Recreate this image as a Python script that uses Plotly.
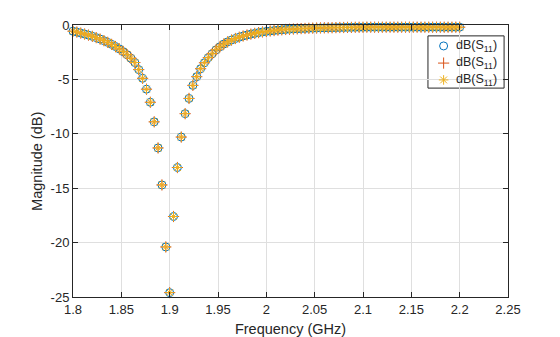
import numpy as np
import plotly.graph_objects as go

# Frequency grid (GHz), 101 samples from 1.8 to 2.2
freq_ghz = np.linspace(1.8, 2.2, 101)

# Return loss magnitude in dB
s11_db = [
    -0.57, -0.65, -0.74, -0.83, -0.93, -1.04, -1.16, -1.29, -1.44, -1.60,
    -1.78, -1.98, -2.20, -2.45, -2.73, -3.06, -3.45, -4.10, -4.90, -5.90,
    -7.10, -8.90, -11.30, -14.70, -20.40, -24.60, -17.60, -13.10, -10.30, -8.15,
    -6.75, -5.55, -4.75, -4.02, -3.47, -3.00, -2.64, -2.28, -2.00, -1.75,
    -1.55, -1.38, -1.24, -1.12, -1.01, -0.92, -0.84, -0.77, -0.70, -0.64,
    -0.59, -0.55, -0.51, -0.47, -0.44, -0.41, -0.39, -0.37, -0.35, -0.33,
    -0.32, -0.30, -0.29, -0.28, -0.27, -0.26, -0.25, -0.25, -0.24, -0.23,
    -0.23, -0.22, -0.22, -0.21, -0.21, -0.21, -0.20, -0.20, -0.20, -0.20,
    -0.20, -0.20, -0.20, -0.20, -0.20, -0.20, -0.20, -0.20, -0.20, -0.20,
    -0.20, -0.20, -0.20, -0.20, -0.20, -0.20, -0.20, -0.20, -0.20, -0.20,
    -0.20,
]

x_ticks = [1.8, 1.85, 1.9, 1.95, 2.0, 2.05, 2.1, 2.15, 2.2, 2.25]
x_tick_text = ["1.8", "1.85", "1.9", "1.95", "2", "2.05", "2.1", "2.15", "2.2", "2.25"]
y_ticks = [0, -5, -10, -15, -20, -25]
y_tick_text = ["0", "-5", "-10", "-15", "-20", "-25"]

series_names = ["dB(S<sub>11</sub>)", "dB(S<sub>11</sub>)", "dB(S<sub>11</sub>)"]
styles = [
    dict(symbol="circle-open", color="#0072BD", size=8),
    dict(symbol="cross-thin-open", color="#D95319", size=8),
    dict(symbol="asterisk-open", color="#EDB120", size=8),
]

INK = "#262626"
fig = go.Figure()
for name, st in zip(series_names, styles):
    fig.add_trace(go.Scatter(
        x=freq_ghz, y=s11_db, mode="markers", name=name,
        cliponaxis=False, showlegend=False,
        marker=dict(symbol=st["symbol"], size=st["size"],
                    color=st["color"], line=dict(color=st["color"], width=1)),
    ))

# Compact boxed legend in the upper-right corner of the axes
leg_x0, leg_x1, leg_y0, leg_y1 = 0.816, 0.991, 0.768, 0.960
row_y = [0.923, 0.860, 0.798]
sym_x, txt_x = 0.852, 0.876

fig.add_shape(type="rect", xref="paper", yref="paper",
              x0=leg_x0, x1=leg_x1, y0=leg_y0, y1=leg_y1,
              fillcolor="white", line=dict(color=INK, width=1), layer="between")
for name, st, yy in zip(series_names, styles, row_y):
    fig.add_trace(go.Scatter(
        x=[sym_x], y=[yy], xaxis="x2", yaxis="y2", mode="markers",
        showlegend=False, hoverinfo="skip", cliponaxis=False,
        marker=dict(symbol=st["symbol"], size=st["size"],
                    color=st["color"], line=dict(color=st["color"], width=1)),
    ))
    fig.add_annotation(xref="paper", yref="paper", x=txt_x, y=yy,
                       text=name, showarrow=False, xanchor="left", yanchor="middle",
                       font=dict(size=12.5, color=INK))

# Y axis label
fig.add_annotation(xref="paper", yref="paper", x=-0.083, y=0.5,
                   text="Magnitude (dB)", textangle=-90, showarrow=False,
                   xanchor="center", yanchor="middle",
                   font=dict(size=14.5, color=INK))

axis_common = dict(
    showline=True, linecolor=INK, linewidth=1, mirror="ticks",
    ticks="inside", ticklen=5, tickcolor=INK,
    showgrid=True, gridcolor="#dfdfdf", gridwidth=1, zeroline=False,
    tickfont=dict(size=13, color=INK), automargin=False,
)

fig.update_layout(
    width=560, height=337,
    margin=dict(l=73, r=52, t=25, b=40),
    paper_bgcolor="white", plot_bgcolor="white",
    font=dict(family="Liberation Sans, Arial, sans-serif", size=13, color=INK),
    showlegend=False,
    xaxis=dict(
        range=[1.8, 2.25], tickvals=x_ticks, ticktext=x_tick_text,
        title=dict(text="Frequency (GHz)", font=dict(size=14.5)),
        **axis_common,
    ),
    yaxis=dict(
        range=[-25, 0], tickvals=y_ticks, ticktext=y_tick_text,
        **axis_common,
    ),
    xaxis2=dict(overlaying="x", range=[0, 1], visible=False),
    yaxis2=dict(overlaying="y", range=[0, 1], visible=False),
)

fig.write_html("out.html")
